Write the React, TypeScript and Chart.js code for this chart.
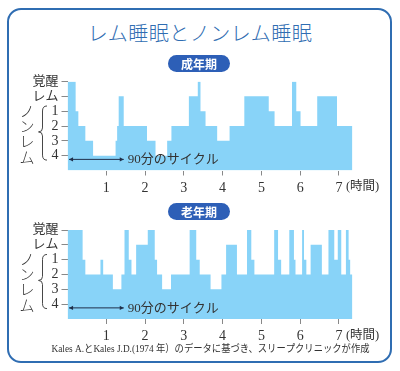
import React, { useEffect, useRef } from "react";
import { Chart, registerables } from "chart.js";

Chart.register(...registerables);

// ---- data ----
const title = "レム睡眠とノンレム睡眠";
const adultLabel = "成年期";
const elderlyLabel = "老年期";
const hourTicks = [1, 2, 3, 4, 5, 6, 7];
const stageLabels = ["覚醒", "レム", "1", "2", "3", "4"]; // stage index 0..5
const nremChars = ["ノ", "ン", "レ", "ム"];
const timeUnit = "(時間)";
const cycleLabel = "90分のサイクル";
const cycleStart = 0.04;
const cycleEnd = 1.45;
const endHour = 7.35;
const source = "Kales A.とKales J.D.(1974 年）のデータに基づき、スリープクリニックが作成";

// stage index: 0 覚醒, 1 レム, 2 ノンレム1, 3 ノンレム2, 4 ノンレム3, 5 ノンレム4
const adultHours = [0, 0.21, 0.28, 0.46, 0.66, 1.24, 1.28, 1.32, 1.45, 2.05, 2.27, 2.57, 2.68, 3.13, 3.36, 3.43, 3.56, 3.86, 4.18, 4.56, 5.19, 5.34, 5.79, 5.9, 6.01, 6.44, 6.95];
const adultStages = [0, 2, 3, 4, 5, 4, 3, 1, 3, 4, 5, 4, 3, 1, 0, 2, 3, 4, 3, 1, 2, 3, 0, 2, 3, 1, 3];

const elderlyHours = [0, 0.39, 0.46, 0.85, 0.92, 1.17, 1.39, 1.47, 1.58, 1.65, 1.77, 2.07, 2.25, 2.31, 2.44, 2.67, 3.15, 3.32, 3.41, 3.69, 3.97, 4.09, 4.37, 4.63, 4.74, 4.82, 5.33, 5.43, 5.51, 5.72, 5.84, 5.88, 6.05, 6.1, 6.16, 6.27, 6.56, 6.73, 6.88, 6.97, 7.06, 7.18, 7.25, 7.29];
const elderlyStages = [0, 2, 3, 2, 3, 4, 3, 0, 2, 3, 1, 0, 2, 3, 4, 3, 0, 2, 3, 4, 3, 1, 3, 0, 2, 3, 0, 2, 3, 0, 2, 3, 0, 2, 3, 1, 3, 0, 2, 0, 3, 0, 2, 3];

// ---- style ----
const FILL = "#88d3f8";
const TEXT = "#333333";
const BLUE = "#2f6db2";
const PILL = "#2d5fb7";
const SERIF = "'Liberation Serif', 'Noto Sans CJK JP', serif";
const CJK = "'Noto Sans CJK JP', sans-serif";

function toPoints(hours: number[], stages: number[]) {
  const pts = hours.map((h, i) => ({ x: h, y: 5 - stages[i] }));
  pts.push({ x: endHour, y: 5 - stages[stages.length - 1] });
  return pts;
}

function makeOverlay(withSource: boolean) {
  return {
    id: "overlay",
    afterDraw(chart: any) {
      const ctx = chart.ctx;
      const ys = chart.scales.y;
      const xs = chart.scales.x;
      const area = chart.chartArea;
      ctx.save();
      // vertical ノンレム
      ctx.fillStyle = TEXT;
      ctx.font = `300 15px ${CJK}`;
      ctx.textAlign = "center";
      ctx.textBaseline = "middle";
      const charVals = [3, 2, 1, -0.1];
      nremChars.forEach((c, i) => ctx.fillText(c, 27, ys.getPixelForValue(charVals[i])));
      // brace
      const top = ys.getPixelForValue(3.35);
      const bot = ys.getPixelForValue(-0.3);
      const mid = ys.getPixelForValue(1.6);
      ctx.strokeStyle = TEXT;
      ctx.lineWidth = 0.9;
      ctx.beginPath();
      ctx.moveTo(47, top);
      ctx.quadraticCurveTo(42.5, top, 42.5, top + 5);
      ctx.lineTo(42.5, mid - 4);
      ctx.quadraticCurveTo(42.5, mid, 38.5, mid);
      ctx.quadraticCurveTo(42.5, mid, 42.5, mid + 4);
      ctx.lineTo(42.5, bot - 5);
      ctx.quadraticCurveTo(42.5, bot, 47, bot);
      ctx.stroke();
      // cycle arrow
      const ay = ys.getPixelForValue(-0.25);
      const x0 = xs.getPixelForValue(cycleStart);
      const x1 = xs.getPixelForValue(cycleEnd);
      ctx.strokeStyle = "#1f2f4a";
      ctx.fillStyle = "#1f2f4a";
      ctx.lineWidth = 1;
      ctx.beginPath();
      ctx.moveTo(x0, ay);
      ctx.lineTo(x1, ay);
      ctx.stroke();
      ctx.beginPath();
      ctx.moveTo(x0, ay);
      ctx.lineTo(x0 + 4, ay - 2.2);
      ctx.lineTo(x0 + 4, ay + 2.2);
      ctx.closePath();
      ctx.fill();
      ctx.beginPath();
      ctx.moveTo(x1, ay);
      ctx.lineTo(x1 - 4, ay - 2.2);
      ctx.lineTo(x1 - 4, ay + 2.2);
      ctx.closePath();
      ctx.fill();
      ctx.fillStyle = TEXT;
      ctx.font = `13px ${SERIF}`;
      ctx.textAlign = "left";
      ctx.fillText(cycleLabel, x1 + 4, ay + 0.5);
      // time unit
      ctx.font = `12.5px ${SERIF}`;
      ctx.fillText(timeUnit, xs.getPixelForValue(7) + 7, area.bottom + 16.5);
      if (withSource) {
        ctx.font = `10.5px ${SERIF}`;
        ctx.textAlign = "center";
        ctx.fillText(source, 210.5, area.bottom + 30, 318);
      }
      ctx.restore();
    },
  };
}

function HypnoChart(props: { hours: number[]; stages: number[]; top: number; height: number; padTop: number; xHeight: number; withSource: boolean }) {
  const ref = useRef<HTMLCanvasElement | null>(null);
  useEffect(() => {
    if (!ref.current) return;
    const chart = new Chart(ref.current, {
      type: "line",
      data: {
        datasets: [
          {
            data: toPoints(props.hours, props.stages),
            stepped: "before",
            fill: "start",
            backgroundColor: FILL,
            borderWidth: 0,
            borderColor: FILL,
            pointRadius: 0,
          } as any,
        ],
      },
      options: {
        responsive: false,
        maintainAspectRatio: false,
        animation: false,
        devicePixelRatio: 1,
        layout: { padding: { left: 0, right: 400 - 352.5, top: props.padTop, bottom: 0 } },
        plugins: { legend: { display: false }, tooltip: { enabled: false } },
        scales: {
          x: {
            type: "linear",
            min: 0,
            max: endHour,
            afterBuildTicks: (s: any) => {
              s.ticks = hourTicks.map((v) => ({ value: v }));
            },
            afterFit: (s: any) => {
              s.height = props.xHeight;
            },
            grid: { drawOnChartArea: false, drawTicks: true, tickLength: 5, color: "#888" },
            border: { display: false },
            ticks: { color: TEXT, padding: 4, font: { family: SERIF, size: 14 }, maxRotation: 0, autoSkip: false },
          },
          y: {
            type: "linear",
            min: -1,
            max: 5,
            afterBuildTicks: (s: any) => {
              s.ticks = [0, 1, 2, 3, 4, 5].map((v) => ({ value: v }));
            },
            afterFit: (s: any) => {
              s.width = 67.5;
            },
            grid: { drawOnChartArea: false, drawTicks: true, tickLength: 6, color: "#888" },
            border: { display: false },
            ticks: {
              color: TEXT,
              padding: 3,
              autoSkip: false,
              font: (c: any) => {
                const v = c.tick ? c.tick.value : 0;
                return v >= 4 ? { family: SERIF, size: 13 } : { family: SERIF, size: 14 };
              },
              callback: (v: any) => stageLabels[5 - Number(v)],
            },
          },
        },
      },
      plugins: [makeOverlay(props.withSource)],
    } as any);
    return () => chart.destroy();
  }, []);
  return (
    <canvas
      ref={ref}
      width={400}
      height={props.height}
      style={{ position: "absolute", left: 0, top: props.top, width: 400, height: props.height }}
    />
  );
}

const pillStyle = (top: number): React.CSSProperties => ({
  position: "absolute",
  left: 168,
  top,
  width: 62,
  height: 17,
  borderRadius: 9,
  background: PILL,
  color: "#fff",
  fontFamily: CJK,
  fontWeight: 700,
  fontSize: 12,
  lineHeight: "17px",
  textAlign: "center",
  zIndex: 2,
});

export default function App() {
  return (
    <div style={{ position: "fixed", left: 0, top: 0, width: 400, height: 371, background: "#fff", overflow: "hidden" }}>
      <div
        style={{
          position: "absolute",
          left: 7,
          top: 7.5,
          width: 385,
          height: 355,
          boxSizing: "border-box",
          border: `2px solid ${BLUE}`,
          borderRadius: 14,
        }}
      />
      <div
        style={{
          position: "absolute",
          left: 0,
          top: 20,
          width: 400,
          textAlign: "center",
          fontFamily: CJK,
          fontWeight: 300,
          fontSize: 20,
          lineHeight: "26px",
          color: BLUE,
          letterSpacing: 0.5,
        }}
      >
        {title}
      </div>
      <HypnoChart hours={adultHours} stages={adultStages} top={60} height={140} padTop={21.5} xHeight={29.5} withSource={false} />
      <HypnoChart hours={elderlyHours} stages={elderlyStages} top={209} height={162} padTop={21} xHeight={52} withSource={true} />
      <div style={pillStyle(55)}>{adultLabel}</div>
      <div style={pillStyle(202.5)}>{elderlyLabel}</div>
    </div>
  );
}
